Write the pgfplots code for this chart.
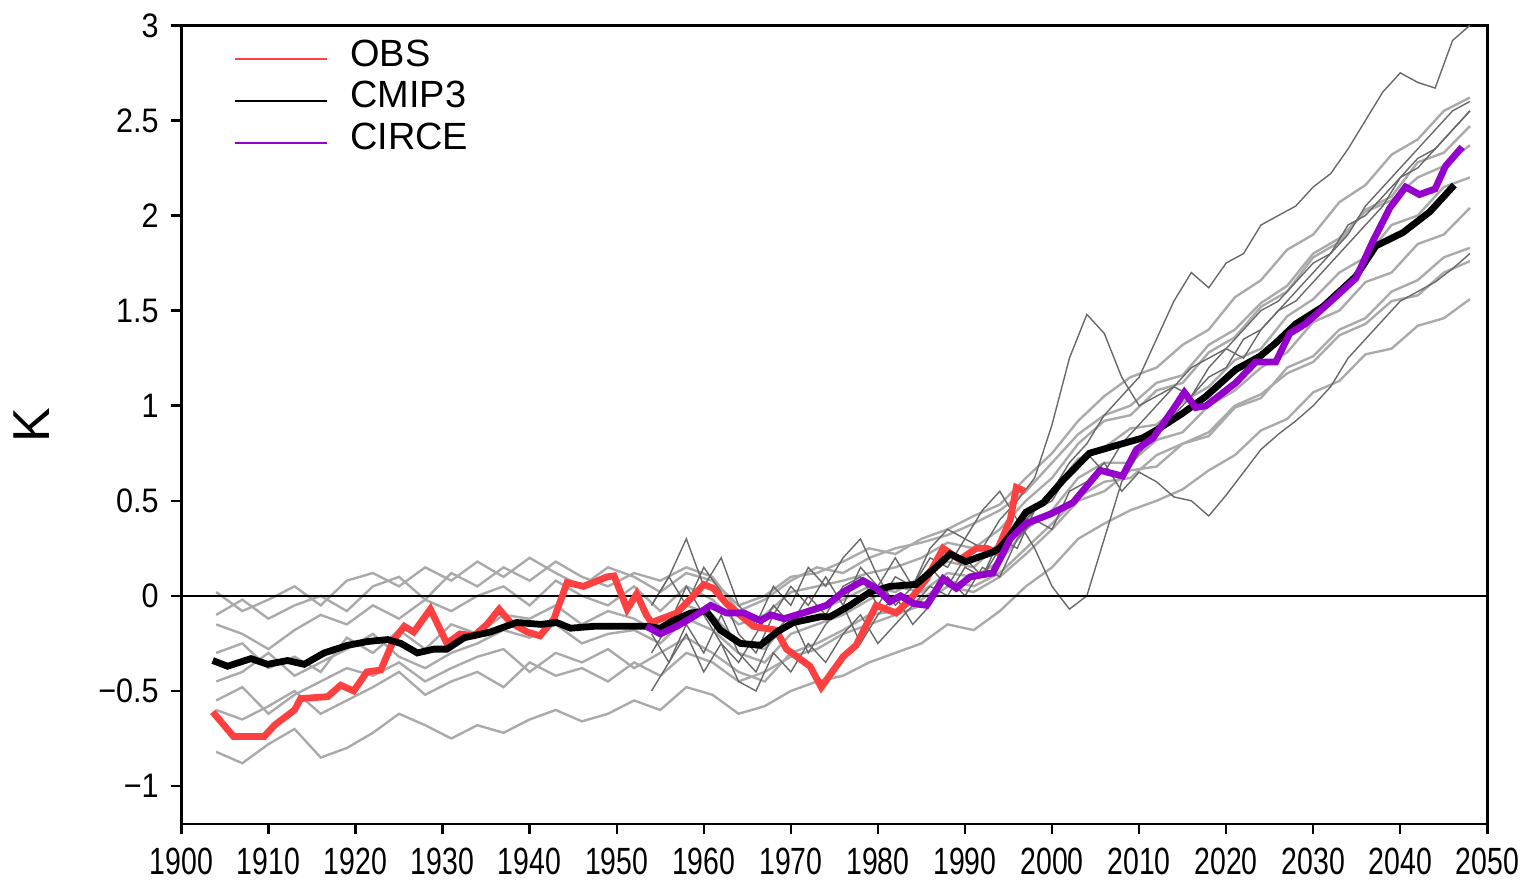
\documentclass[border=0pt]{standalone}
\usepackage{pgfplots}
\pgfplotsset{compat=1.18}
\usepackage{pgfplotstable}
\usepackage{fontspec}
\setmainfont{Liberation Sans}

\definecolor{obsred}{RGB}{255,64,64}
\definecolor{circe}{RGB}{150,0,205}
\definecolor{enslight}{RGB}{170,170,170}
\definecolor{ensdark}{RGB}{105,105,105}

% CMIP3 ensemble members (light grey)
\pgfplotstableread{
year g1 g2 g3 g4 g5 g6 g7 g8
1904 0.02 -0.15 -0.30 -0.45 -0.60 -0.82 -0.10 -0.55
1907 -0.08 -0.20 -0.25 -0.40 -0.65 -0.88 -0.02 -0.48
1910 -0.02 -0.28 -0.38 -0.30 -0.58 -0.78 -0.12 -0.62
1913 0.05 -0.18 -0.32 -0.42 -0.50 -0.70 -0.05 -0.52
1916 -0.05 -0.10 -0.40 -0.35 -0.62 -0.85 0.00 -0.45
1919 0.08 -0.15 -0.22 -0.28 -0.55 -0.80 -0.08 -0.38
1922 0.12 -0.05 -0.30 -0.20 -0.48 -0.72 0.05 -0.42
1925 0.05 -0.12 -0.18 -0.32 -0.40 -0.62 0.10 -0.35
1928 0.15 -0.02 -0.28 -0.38 -0.52 -0.68 -0.02 -0.45
1931 0.08 -0.08 -0.15 -0.30 -0.45 -0.75 0.12 -0.38
1934 0.18 0.00 -0.20 -0.25 -0.40 -0.68 0.05 -0.32
1937 0.10 0.05 -0.10 -0.18 -0.48 -0.72 0.15 -0.28
1940 0.20 -0.05 -0.12 -0.22 -0.35 -0.65 0.08 -0.40
1943 0.12 0.08 -0.05 -0.15 -0.42 -0.60 0.18 -0.30
1946 0.05 0.00 -0.15 -0.25 -0.38 -0.66 0.10 -0.35
1949 0.15 -0.05 -0.08 -0.20 -0.45 -0.62 0.05 -0.28
1952 0.10 0.05 -0.12 -0.18 -0.35 -0.55 0.12 -0.38
1955 0.02 -0.08 -0.20 -0.25 -0.42 -0.60 0.08 -0.30
1958 0.12 0.05 -0.05 -0.12 -0.30 -0.48 0.15 -0.22
1961 0.08 -0.02 -0.10 -0.18 -0.35 -0.52 0.10 -0.30
1964 -0.05 -0.15 -0.25 -0.30 -0.45 -0.62 -0.08 -0.40
1967 0.00 -0.10 -0.28 -0.35 -0.40 -0.58 -0.02 -0.45
1970 0.10 0.02 -0.12 -0.20 -0.32 -0.50 0.08 -0.30
1973 0.12 0.05 -0.08 -0.15 -0.28 -0.45 0.15 -0.25
1976 0.18 0.08 -0.02 -0.10 -0.20 -0.42 0.12 -0.18
1979 0.25 0.12 0.05 -0.02 -0.15 -0.35 0.20 -0.10
1982 0.22 0.15 0.02 0.05 -0.10 -0.30 0.25 -0.08
1985 0.30 0.20 0.10 0.02 -0.05 -0.25 0.28 -0.02
1988 0.35 0.28 0.18 0.12 0.05 -0.15 0.32 0.08
1991 0.42 0.25 0.15 0.10 0.02 -0.18 0.38 0.05
1994 0.48 0.35 0.28 0.18 0.10 -0.08 0.45 0.12
1997 0.62 0.50 0.40 0.35 0.22 0.05 0.55 0.25
2000 0.75 0.62 0.55 0.45 0.35 0.15 0.70 0.38
2003 0.92 0.80 0.72 0.62 0.50 0.30 0.85 0.52
2006 1.05 0.92 0.78 0.70 0.55 0.38 0.95 0.60
2009 1.15 0.95 0.88 0.70 0.66 0.45 1.00 0.62
2012 1.20 1.08 0.90 0.82 0.68 0.50 1.12 0.74
2015 1.32 1.12 1.02 0.86 0.80 0.56 1.16 0.80
2018 1.40 1.28 1.10 1.00 0.84 0.66 1.32 0.86
2021 1.57 1.36 1.24 1.08 0.99 0.74 1.40 1.00
2024 1.66 1.52 1.30 1.20 1.04 0.87 1.54 1.06
2027 1.82 1.60 1.47 1.28 1.20 0.93 1.63 1.17
2030 1.90 1.78 1.56 1.44 1.26 1.07 1.80 1.23
2033 2.07 1.86 1.70 1.50 1.40 1.13 1.88 1.37
2036 2.16 2.03 1.78 1.65 1.46 1.27 2.02 1.43
2039 2.32 2.10 1.95 1.70 1.60 1.30 2.08 1.55
2042 2.40 2.28 2.00 1.85 1.66 1.42 2.20 1.58
2045 2.55 2.33 2.15 1.90 1.78 1.46 2.26 1.70
2048 2.62 2.47 2.20 2.04 1.83 1.56 2.37 1.76
}\enslighttable

% CIRCE ensemble members (dark grey)
\pgfplotstableread{
year d1 d2 d3 d4 d5
1954 -0.30 -0.05 -0.50 -0.20 -0.05
1956 -0.15 0.10 -0.35 -0.35 0.10
1958 0.05 -0.05 -0.20 -0.15 0.30
1960 -0.10 0.15 -0.40 -0.30 0.05
1962 -0.25 0.02 -0.25 -0.10 0.20
1964 -0.35 -0.20 -0.45 -0.30 -0.05
1966 -0.20 -0.30 -0.50 -0.40 -0.15
1968 -0.05 -0.10 -0.30 -0.20 0.05
1970 -0.15 0.05 -0.40 -0.10 -0.05
1972 0.00 -0.05 -0.25 -0.30 0.15
1974 -0.10 0.10 -0.35 -0.15 0.05
1976 0.05 -0.05 -0.20 -0.05 0.20
1978 0.10 0.15 -0.10 -0.25 0.30
1980 -0.05 0.05 -0.25 -0.10 0.10
1982 0.10 0.20 -0.15 0.00 -0.05
1984 0.05 0.05 -0.05 -0.15 0.05
1986 0.20 0.25 0.05 -0.05 0.15
1988 0.15 0.35 0.00 0.10 0.05
1990 0.30 0.30 0.15 0.00 0.20
1992 0.25 0.45 0.10 0.15 0.10
1994 0.40 0.55 0.25 0.10 0.30
1996 0.50 0.40 0.35 0.30 0.25
1998 0.62 0.25 0.45 0.40 0.45
2000 0.90 0.05 0.55 0.35 0.50
2002 1.25 -0.07 0.70 0.55 0.65
2004 1.48 0.00 0.80 0.60 0.75
2006 1.38 0.30 0.95 0.70 0.65
2008 1.15 0.60 1.05 0.55 0.80
2010 1.00 0.75 1.15 0.65 0.90
2012 1.05 0.85 1.35 0.60 1.00
2014 1.10 0.95 1.55 0.52 1.10
2016 1.20 1.05 1.70 0.50 1.05
2018 1.25 1.15 1.62 0.42 1.20
2020 1.30 1.20 1.75 0.53 1.30
2022 1.40 1.35 1.80 0.65 1.25
2024 1.50 1.40 1.95 0.77 1.40
2026 1.55 1.50 2.00 0.85 1.50
2028 1.65 1.60 2.05 0.92 1.55
2030 1.75 1.70 2.15 1.00 1.65
2032 1.80 1.80 2.22 1.10 1.75
2034 1.95 1.90 2.35 1.25 1.85
2036 2.00 2.05 2.50 1.35 1.95
2038 2.10 2.15 2.65 1.45 2.05
2040 2.20 2.25 2.75 1.55 2.20
2042 2.30 2.35 2.70 1.60 2.25
2044 2.35 2.45 2.67 1.65 2.35
2046 2.45 2.55 2.92 1.72 2.45
2048 2.55 2.60 3.00 1.80 2.55
}\ensdarktable

\begin{document}
\begin{tikzpicture}
\begin{axis}[
  scale only axis,
  width=327pt, height=200pt,
  xmin=1900, xmax=2050,
  ymin=-1.2, ymax=3,
  xtick={1900,1910,...,2050},
  ytick={-1,-0.5,0,0.5,1,1.5,2,2.5,3},
  yticklabels={−1,−0.5,0,0.5,1,1.5,2,2.5,3},
  tick align=outside,
  tick pos=left,
  major tick length=2.5pt,
  axis line style={line width=0.7pt},
  every tick/.style={black, line width=0.6pt},
  /pgf/number format/1000 sep={},
  /pgf/number format/assume math mode=true,
  xticklabel style={font=\fontsize{9.5}{10}\selectfont, xscale=0.75},
  yticklabel style={font=\fontsize{8.5}{10}\selectfont, xscale=0.9},
  ylabel={K},
  ylabel style={font=\fontsize{13}{13}\selectfont, at={(axis description cs:-0.115,0.5)}, anchor=center},
  legend style={draw=none, fill=none, at={(axis description cs:0.04,0.985)}, anchor=north west,
    font=\fontsize{9.5}{10}\selectfont, inner sep=0pt,
    nodes={inner sep=0pt, text height=7pt, text depth=3.5pt},
    /tikz/every odd column/.append style={column sep=5.5pt}},
  legend cell align=left,
  legend image code/.code={\draw[line width=0.5pt] (0pt,0pt) -- (23pt,0pt);},
]
\foreach \c in {g1,g2,g3,g4,g5,g6,g7,g8}{
  \addplot[enslight, line width=0.6pt, forget plot] table[x=year, y=\c] {\enslighttable};
}
\foreach \c in {d1,d2,d3,d4,d5}{
  \addplot[ensdark, line width=0.35pt, forget plot] table[x=year, y=\c] {\ensdarktable};
}
\addplot[black, line width=0.5pt, forget plot] coordinates {(1900,0) (2050,0)};

\addplot[obsred, line width=1.7pt] coordinates {
 (1903.6,-0.61) (1906,-0.74) (1909.5,-0.74) (1910.7,-0.68) (1913,-0.60) (1913.7,-0.54)
 (1916.8,-0.53) (1918.3,-0.47) (1919.8,-0.50) (1921.3,-0.40) (1922.9,-0.39) (1924.4,-0.23)
 (1925.6,-0.16) (1926.7,-0.19) (1928.6,-0.07) (1930.5,-0.25) (1932,-0.20) (1933.6,-0.21)
 (1935.1,-0.15) (1936.5,-0.07) (1937.8,-0.14) (1939.7,-0.19) (1941.2,-0.21) (1942.8,-0.12)
 (1944.3,0.07) (1946.2,0.05) (1948.9,0.10) (1949.7,0.105) (1951.2,-0.07) (1952.3,0.01)
 (1953.4,-0.10) (1954,-0.14) (1956.9,-0.09) (1958.8,0.0) (1960,0.06) (1961.1,0.04)
 (1962.6,-0.04) (1965.7,-0.16) (1968.3,-0.18) (1969.5,-0.28) (1972.2,-0.37) (1973.5,-0.48)
 (1976,-0.32) (1977.5,-0.26) (1979.8,-0.05) (1982.1,-0.09) (1983.7,-0.02) (1985.6,0.09)
 (1987.5,0.25) (1989.4,0.19) (1991.3,0.25) (1992.5,0.25) (1993.6,0.23) (1995.2,0.40)
 (1995.9,0.57) (1996.9,0.55)
};
\addlegendentry{OBS}

\addplot[black, line width=1.7pt] coordinates {
 (1903.6,-0.34) (1905.3,-0.37) (1908,-0.33) (1909.9,-0.36) (1912.2,-0.34) (1914.1,-0.36)
 (1916.4,-0.30) (1919.1,-0.26) (1921.4,-0.24) (1923.7,-0.23) (1925.2,-0.25) (1927.1,-0.30)
 (1929,-0.28) (1930.5,-0.28) (1932.5,-0.22) (1935.5,-0.19) (1938.5,-0.14) (1941.3,-0.15)
 (1943.1,-0.14) (1944.7,-0.17) (1947.4,-0.16) (1950,-0.16) (1953.4,-0.16) (1955,-0.17)
 (1956.5,-0.13) (1958.5,-0.09) (1960.3,-0.08) (1961.9,-0.18) (1964.2,-0.25) (1966.5,-0.26)
 (1968.4,-0.19) (1970.3,-0.14) (1973.4,-0.11) (1974.5,-0.11) (1976.8,-0.05) (1979.1,0.02)
 (1981.4,0.05) (1984.4,0.06) (1986.4,0.14) (1988.3,0.22) (1990.1,0.18) (1993.2,0.23)
 (1994.0,0.25) (1995.2,0.32) (1997,0.44) (1999,0.49) (2001.3,0.61) (2004.3,0.75)
 (2007.3,0.79) (2010.4,0.83) (2012.3,0.88) (2015,0.96) (2017.7,1.05) (2021.1,1.19)
 (2023.9,1.26) (2025.7,1.33) (2028,1.43) (2031.1,1.52) (2034.9,1.68) (2037.2,1.84)
 (2040.3,1.91) (2043.4,2.02) (2046.2,2.16)
};
\addlegendentry{CMIP3}

\addplot[circe, line width=1.7pt] coordinates {
 (1953.4,-0.16) (1955,-0.20) (1956.9,-0.16) (1958.8,-0.11) (1960.8,-0.05) (1962.6,-0.09)
 (1964.6,-0.09) (1966.5,-0.13) (1967.7,-0.10) (1969.2,-0.12) (1971.4,-0.09) (1974.1,-0.05)
 (1976,0.02) (1978.3,0.08) (1979.8,0.04) (1981.4,-0.03) (1982.6,0.0) (1984.1,-0.04)
 (1985.6,-0.05) (1987.5,0.09) (1989,0.04) (1990.6,0.10) (1993.2,0.12) (1995.2,0.30)
 (1997,0.38) (1999.8,0.43) (2002.4,0.49) (2005.5,0.66) (2008.1,0.63) (2009.7,0.77)
 (2011.6,0.83) (2013.9,0.98) (2015.2,1.07) (2016.5,0.99) (2017.7,1.0) (2021.1,1.12)
 (2023.4,1.23) (2025.7,1.23) (2027.3,1.38) (2029.1,1.43) (2031.8,1.54) (2034.9,1.67)
 (2036.8,1.86) (2038.8,2.04) (2040.6,2.15) (2042.2,2.11) (2044,2.14) (2045.2,2.26)
 (2047.1,2.36)
};
\addlegendentry{CIRCE}
\end{axis}
\end{tikzpicture}
\end{document}
